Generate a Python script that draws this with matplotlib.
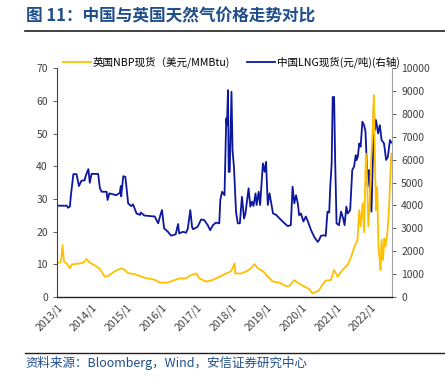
import matplotlib
matplotlib.use("Agg")
import matplotlib.pyplot as plt
import numpy as np

plt.rcParams['font.family'] = ['Noto Sans CJK SC', 'DejaVu Sans']

# time axis in decimal years
nbp_t = [2013.0, 2013.1, 2013.13, 2013.16, 2013.2, 2013.28, 2013.37, 2013.43, 2013.6, 2013.75,
         2013.85, 2013.94, 2014.08, 2014.23, 2014.37, 2014.47, 2014.66, 2014.85, 2014.94, 2015.04,
         2015.23, 2015.42, 2015.6, 2015.8, 2015.94, 2016.18, 2016.32, 2016.51, 2016.7, 2016.8,
         2016.99, 2017.08, 2017.27, 2017.46, 2017.65, 2017.85, 2017.99, 2018.09, 2018.11, 2018.27,
         2018.42, 2018.56, 2018.66, 2018.75, 2018.9, 2019.04, 2019.19, 2019.38, 2019.57, 2019.66,
         2019.8, 2019.9, 2020.09, 2020.23, 2020.32, 2020.42, 2020.51, 2020.61, 2020.7, 2020.85,
         2020.94, 2021.04, 2021.18, 2021.33, 2021.42, 2021.51, 2021.61, 2021.66, 2021.7, 2021.76,
         2021.8, 2021.85, 2021.89, 2021.92, 2021.96, 2022.0, 2022.05, 2022.08, 2022.11, 2022.14,
         2022.16, 2022.18, 2022.21, 2022.25, 2022.27, 2022.3, 2022.34, 2022.38, 2022.41, 2022.46,
         2022.5, 2022.52, 2022.55, 2022.58]
nbp_val = [10.5, 10.6, 12.3, 15.9, 10.9, 10.2, 8.8, 10.0, 10.2, 10.5,
           11.6, 10.5, 9.7, 8.6, 6.2, 6.5, 7.9, 8.8, 8.3, 7.3,
           7.0, 6.2, 5.7, 5.3, 4.4, 4.4, 5.0, 5.7, 5.7, 6.5,
           7.2, 5.7, 4.7, 5.2, 6.2, 7.2, 7.9, 10.3, 7.2, 7.2,
           7.8, 8.8, 10.1, 8.8, 7.9, 6.2, 4.7, 4.4, 3.3, 3.4,
           5.2, 4.3, 3.2, 2.4, 1.1, 1.6, 2.1, 3.9, 5.0, 5.2,
           8.3, 6.2, 8.3, 9.9, 12.0, 15.0, 17.4, 26.6, 21.6, 28.7,
           19.8, 43.9, 35.0, 21.6, 28.7, 41.7, 52.0, 61.8, 41.7, 26.6,
           33.6, 31.5, 15.4, 10.8, 8.3, 17.5, 11.3, 17.9, 15.4, 18.9,
           24.6, 28.7, 36.8, 43.9]

lng_t = [2013.0, 2013.28, 2013.32, 2013.37, 2013.4, 2013.47, 2013.56, 2013.63, 2013.7, 2013.79,
         2013.82, 2013.9, 2013.94, 2013.99, 2014.18, 2014.23, 2014.28, 2014.42, 2014.45, 2014.5,
         2014.7, 2014.8, 2014.83, 2014.84, 2014.9, 2014.96, 2015.04, 2015.13, 2015.18, 2015.28,
         2015.38, 2015.4, 2015.46, 2015.5, 2015.8, 2015.9, 2015.97, 2016.01, 2016.07, 2016.18,
         2016.27, 2016.4, 2016.47, 2016.5, 2016.61, 2016.7, 2016.75, 2016.82, 2016.87, 2016.9,
         2017.03, 2017.13, 2017.22, 2017.32, 2017.39, 2017.47, 2017.55, 2017.65, 2017.68, 2017.73,
         2017.8, 2017.85, 2017.87, 2017.9, 2017.92, 2017.95, 2018.0, 2018.03, 2018.07, 2018.13,
         2018.18, 2018.24, 2018.3, 2018.36, 2018.4, 2018.49, 2018.54, 2018.59, 2018.63, 2018.69,
         2018.72, 2018.78, 2018.82, 2018.9, 2018.95, 2018.99, 2019.04, 2019.09, 2019.19, 2019.28,
         2019.38, 2019.52, 2019.61, 2019.7, 2019.75, 2019.8, 2019.85, 2019.9, 2019.94, 2019.99,
         2020.06, 2020.13, 2020.2, 2020.28, 2020.37, 2020.47, 2020.51, 2020.56, 2020.65, 2020.7,
         2020.75, 2020.8, 2020.83, 2020.87, 2020.9, 2020.94, 2020.97, 2021.01, 2021.08, 2021.14,
         2021.2, 2021.24, 2021.29, 2021.33, 2021.4, 2021.46, 2021.51, 2021.56, 2021.58, 2021.62,
         2021.66, 2021.7, 2021.75, 2021.8, 2021.84, 2021.9, 2021.94, 2021.97, 2022.01, 2022.05,
         2022.08, 2022.1, 2022.14, 2022.2, 2022.25, 2022.3, 2022.37, 2022.43, 2022.48, 2022.54,
         2022.58]
lng_val = [3990, 3990, 3900, 3950, 4450, 5370, 5370, 4850, 5080, 5100,
           5280, 5590, 4990, 5380, 5380, 4750, 4600, 4600, 4240, 4530,
           4450, 4550, 4850, 4400, 5280, 5250, 4090, 3970, 4050, 3650,
           3590, 3690, 3620, 3560, 3520, 3220, 3620, 3800, 3000, 2850,
           2680, 2740, 3190, 2780, 2850, 2810, 3000, 3800, 3070, 2960,
           3070, 3390, 3360, 3140, 2920, 3140, 3250, 3220, 4240, 4600,
           4450, 7800, 7510, 9040, 5470, 5470, 8970, 6420, 5690, 3730,
           3220, 3220, 4380, 3430, 3650, 4750, 3950, 4170, 3980, 4530,
           4020, 4600, 4020, 5840, 5470, 5910, 4020, 4530, 3650, 3590,
           3430, 3220, 3100, 3140, 4820, 4090, 4450, 4090, 3570, 3650,
           3300, 3520, 3260, 2920, 2630, 2410, 2490, 2670, 2700, 2670,
           3730, 3690, 4820, 5840, 8740, 8740, 5990, 3220, 3140, 3730,
           3430, 3140, 3950, 3650, 3800, 5550, 5690, 6200, 5980, 6130,
           6710, 6570, 7660, 7510, 7220, 4820, 5550, 4820, 3730, 5990,
           8460, 7290, 7730, 7150, 7510, 6860, 6710, 5990, 6130, 6860,
           6750]

years = list(range(2013, 2023))
year_labels = [f"{y}/1" for y in years]

nbp_color = '#FFC000'
lng_color = '#0C179E'
title_color = '#1F4E8C'

fig = plt.figure(figsize=(4.45, 3.83), dpi=100)
ax = fig.add_axes([0.128, 0.2245, 0.753, 0.5975])
ax2 = ax.twinx()

l1, = ax.plot(nbp_t, nbp_val, color=nbp_color, lw=1.3, label='英国NBP现货（美元/MMBtu)')
l2, = ax2.plot(lng_t, lng_val, color=lng_color, lw=1.3, label='中国LNG现货(元/吨)(右轴)')
ax.set_zorder(ax2.get_zorder() + 1)
ax.patch.set_visible(False)

ax.set_xlim(2013.0, 2022.6)
ax.set_ylim(0, 70)
ax.set_yticks(range(0, 71, 10))
ax2.set_ylim(0, 10000)
ax2.set_yticks(range(0, 10001, 1000))

ax.set_xticks(years)
ax.set_xticklabels(year_labels, rotation=45, ha='right', rotation_mode='anchor')

for a in (ax, ax2):
    a.spines['top'].set_visible(False)
    a.tick_params(labelsize=7.5, colors='#404040', length=3, width=0.6)
ax.tick_params(axis='x', length=0)
ax.spines['left'].set_color('#404040')
ax.spines['bottom'].set_color('#202020')
ax.spines['bottom'].set_linewidth(1.0)
ax.spines['right'].set_visible(False)
ax2.spines['left'].set_visible(False)
ax2.spines['bottom'].set_visible(False)
ax2.spines['right'].set_color('#A0A0A0')

fig.legend(handles=[l1, l2], loc='center', bbox_to_anchor=(0.52, 0.838), ncol=2,
           frameon=False, fontsize=7.6, handlelength=2.6, columnspacing=1.6,
           handletextpad=0.2)

fig.text(0.058, 0.956, '图 11：中国与英国天然气价格走势对比', fontsize=12,
         fontweight='bold', color=title_color, va='center')
fig.add_artist(plt.Line2D([0.056, 1.0], [0.918, 0.918], color='#202020', lw=1.2))
fig.add_artist(plt.Line2D([0.056, 1.0], [0.078, 0.078], color='#202020', lw=1.0))
fig.text(0.058, 0.052, '资料来源：Bloomberg，Wind，安信证券研究中心', fontsize=9,
         style='italic', color=title_color, va='center')

fig.savefig('out.png', dpi=100)
